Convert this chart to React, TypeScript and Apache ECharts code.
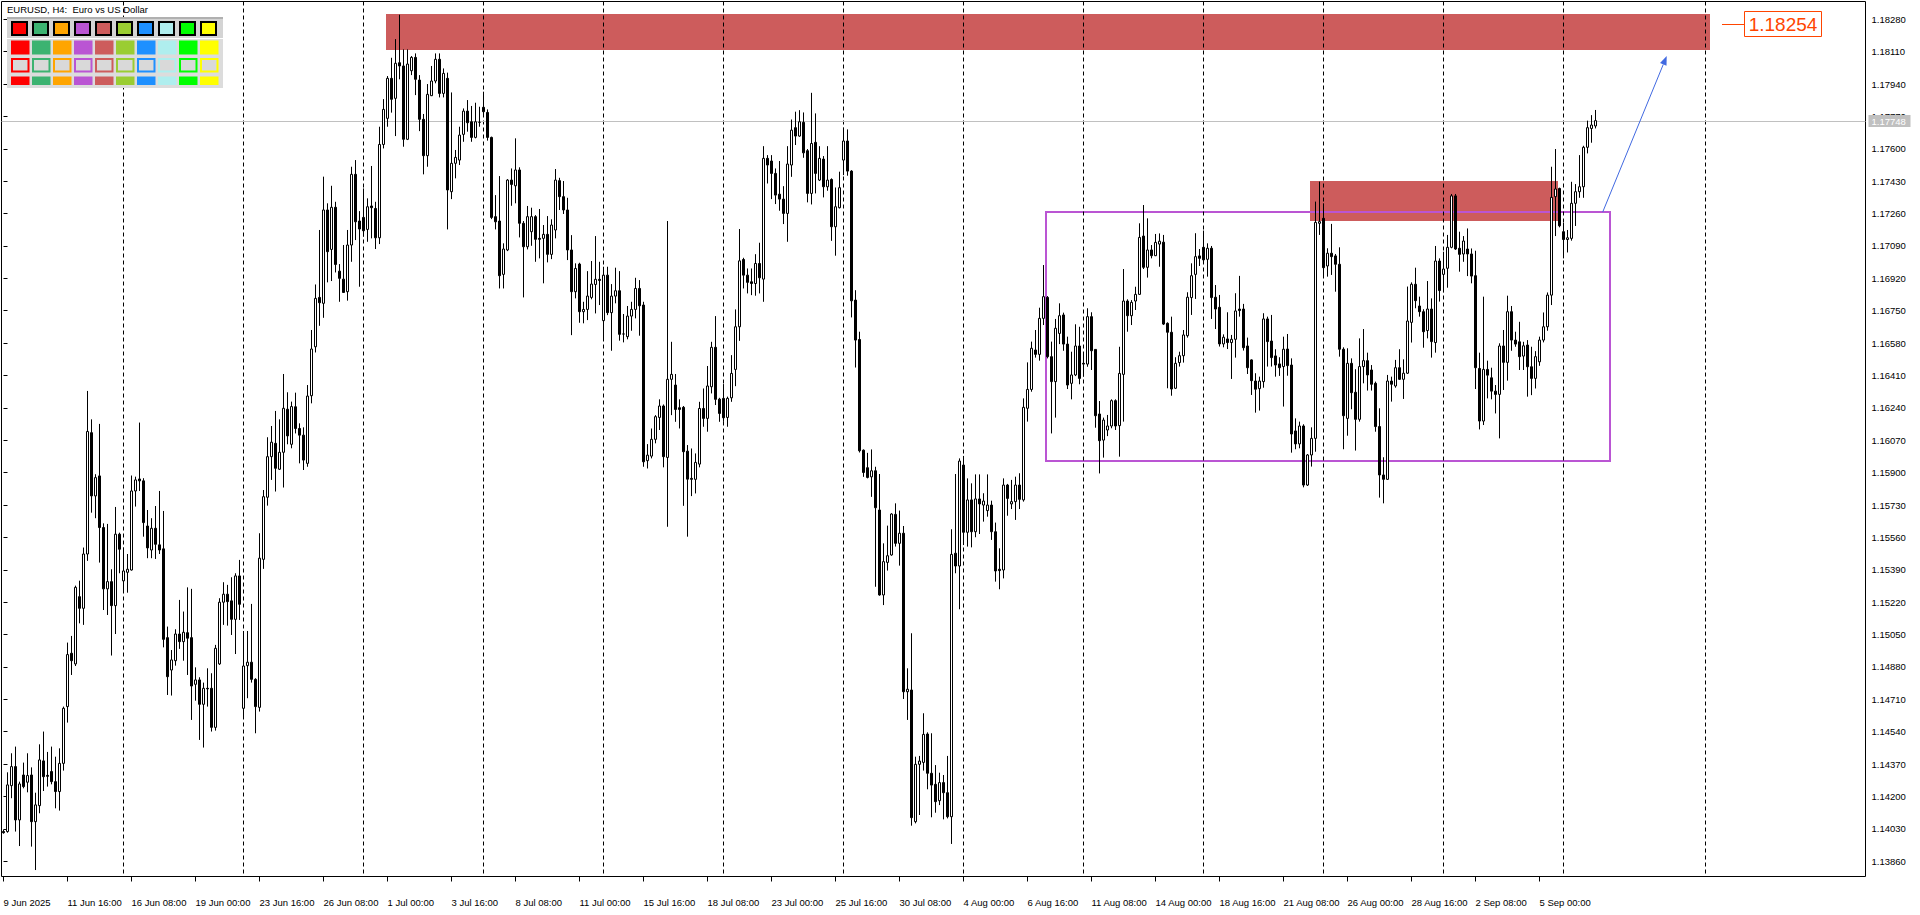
import React, { useEffect, useRef } from "react";
import * as echarts from "echarts";

const FONT = "'Liberation Sans', Arial, sans-serif";
const SLOTS = 466; // bar slots on the time scale, including the empty space on the right

const timeLabels: [number, string][] = [
  [0, "9 Jun 2025"], [16, "11 Jun 16:00"], [32, "16 Jun 08:00"], [48, "19 Jun 00:00"],
  [64, "23 Jun 16:00"], [80, "26 Jun 08:00"], [96, "1 Jul 00:00"], [112, "3 Jul 16:00"],
  [128, "8 Jul 08:00"], [144, "11 Jul 00:00"], [160, "15 Jul 16:00"], [176, "18 Jul 08:00"],
  [192, "23 Jul 00:00"], [208, "25 Jul 16:00"], [224, "30 Jul 08:00"], [240, "4 Aug 00:00"],
  [256, "6 Aug 16:00"], [272, "11 Aug 08:00"], [288, "14 Aug 00:00"], [304, "18 Aug 16:00"],
  [320, "21 Aug 08:00"], [336, "26 Aug 00:00"], [352, "28 Aug 16:00"], [368, "2 Sep 08:00"],
  [384, "5 Sep 00:00"],
];

const priceTicks = [
  1.1386, 1.1403, 1.142, 1.1437, 1.1454, 1.1471, 1.1488, 1.1505, 1.1522, 1.1539, 1.1556,
  1.1573, 1.159, 1.1607, 1.1624, 1.1641, 1.1658, 1.1675, 1.1692, 1.1709, 1.1726, 1.1743,
  1.176, 1.1777, 1.1794, 1.1811, 1.1828,
];

// EURUSD H4 candles: [open, close, low, high]
const candles: number[][] = [
  [1.14016,1.1401,1.14005,1.14026],[1.14016,1.14261,1.1401,1.14327],[1.14257,1.14357,1.14191,1.14427],[1.14357,1.14077,1.14016,1.14462],[1.14077,1.14266,1.1394,1.14278],
  [1.14313,1.14252,1.14243,1.14378],[1.14275,1.1431,1.14222,1.14427],[1.14313,1.14068,1.13937,1.14353],[1.14068,1.14156,1.13814,1.1422],[1.14152,1.14392,1.14112,1.14474],
  [1.14387,1.14304,1.14229,1.14541],[1.14311,1.14306,1.14252,1.14434],[1.14331,1.14278,1.14264,1.14462],[1.14278,1.14226,1.14138,1.14409],[1.14226,1.14374,1.14126,1.14453],
  [1.14374,1.14663,1.14336,1.14672],[1.14672,1.14945,1.14588,1.15008],[1.14952,1.14913,1.14838,1.15043],[1.14896,1.15298,1.14885,1.15307],[1.15249,1.15188,1.15109,1.15333],
  [1.15188,1.15473,1.15101,1.15507],[1.15473,1.16116,1.15437,1.16329],[1.1611,1.15778,1.1569,1.1618],[1.15778,1.15874,1.15661,1.15892],[1.15883,1.15612,1.15428,1.16156],
  [1.15612,1.1529,1.15179,1.15634],[1.1529,1.15328,1.15153,1.15631],[1.15328,1.15202,1.1494,1.15393],[1.15202,1.15577,1.15053,1.1572],[1.15577,1.15498,1.15372,1.15585],
  [1.15332,1.15384,1.15281,1.15507],[1.15377,1.15393,1.1527,1.15473],[1.15389,1.15804,1.15386,1.15885],[1.15804,1.15862,1.15722,1.15879],[1.15867,1.15857,1.15804,1.16163],
  [1.15857,1.15638,1.15564,1.15871],[1.1562,1.15505,1.15451,1.15704],[1.15494,1.15608,1.15451,1.15661],[1.15608,1.15524,1.15447,1.15725],[1.15521,1.15494,1.15473,1.15804],
  [1.155,1.15025,1.14983,1.15699],[1.15034,1.14829,1.14733,1.15092],[1.14864,1.14917,1.1473,1.14969],[1.14913,1.15053,1.14887,1.15078],[1.15053,1.15013,1.14975,1.15232],
  [1.15013,1.15062,1.14913,1.15171],[1.1506,1.15031,1.14838,1.15298],[1.15034,1.1478,1.14602,1.1529],[1.14789,1.14812,1.14703,1.14878],[1.14812,1.14684,1.14497,1.14826],
  [1.14684,1.14768,1.14457,1.14798],[1.14768,1.14765,1.14672,1.14873],[1.14768,1.14563,1.14541,1.14847],[1.14563,1.14978,1.14546,1.14996],[1.14896,1.1522,1.14891,1.15241],
  [1.1522,1.15262,1.15101,1.15325],[1.15262,1.15223,1.15097,1.15311],[1.15227,1.1513,1.15048,1.15351],[1.1513,1.15358,1.14948,1.15372],[1.15358,1.15209,1.15127,1.15442],
  [1.14663,1.14885,1.14611,1.15069],[1.14887,1.14905,1.14716,1.15069],[1.14905,1.14815,1.14798,1.15211],[1.14815,1.14672,1.14532,1.14821],[1.14668,1.15451,1.14646,1.15582],
  [1.15445,1.15774,1.15395,1.15809],[1.15771,1.15984,1.15727,1.16086],[1.15984,1.1606,1.15862,1.16145],[1.16054,1.15923,1.15801,1.16224],[1.15918,1.16007,1.15914,1.1618],
  [1.16007,1.16238,1.15822,1.16418],[1.16233,1.16093,1.16049,1.16322],[1.16049,1.16247,1.16028,1.16273],[1.16246,1.16132,1.16106,1.1632],[1.16132,1.16097,1.15949,1.16159],
  [1.16097,1.15966,1.15914,1.16138],[1.15949,1.16302,1.15931,1.1636],[1.16304,1.16549,1.16264,1.16649],[1.16561,1.16815,1.16531,1.16888],[1.1682,1.16792,1.16671,1.17174],
  [1.16789,1.17279,1.16713,1.17454],[1.17279,1.1706,1.16899,1.17314],[1.17072,1.17293,1.16906,1.17406],[1.17293,1.16993,1.16951,1.17322],[1.16958,1.1692,1.16797,1.16995],
  [1.16916,1.16846,1.16845,1.17095],[1.1685,1.17095,1.16803,1.17174],[1.17095,1.17466,1.17007,1.17506],[1.17466,1.17217,1.17121,1.17541],[1.17221,1.17179,1.16876,1.17273],
  [1.1724,1.1717,1.17139,1.17392],[1.17177,1.17296,1.17112,1.1734],[1.173,1.17291,1.1713,1.1751],[1.17287,1.17133,1.17074,1.17322],[1.17133,1.17623,1.171,1.17716],
  [1.17623,1.17807,1.17602,1.17861],[1.1776,1.1797,1.17716,1.17982],[1.1797,1.1786,1.1779,1.18078],[1.17865,1.18049,1.17667,1.18176],[1.18052,1.18035,1.17965,1.18304],
  [1.18035,1.1765,1.17611,1.18122],[1.1765,1.18045,1.17646,1.18122],[1.1801,1.1808,1.17987,1.18087],[1.1808,1.17965,1.17882,1.18101],[1.17961,1.17755,1.17693,1.17987],
  [1.17755,1.17564,1.17466,1.17783],[1.17564,1.17886,1.17506,1.1794],[1.17879,1.17956,1.17877,1.18035],[1.17956,1.1807,1.17944,1.18101],[1.1807,1.17891,1.1787,1.18101],
  [1.17891,1.17996,1.1787,1.18022],[1.1797,1.17384,1.17177,1.18],[1.17375,1.17524,1.17336,1.17896],[1.17524,1.17555,1.17445,1.17594],[1.17541,1.17672,1.17515,1.17716],
  [1.17676,1.17798,1.17637,1.17812],[1.17798,1.17737,1.1769,1.17856],[1.17742,1.1766,1.17637,1.17825],[1.1766,1.17742,1.17655,1.17842],[1.17739,1.17739,1.17716,1.17821],
  [1.17818,1.17795,1.17769,1.179],[1.17791,1.1766,1.17643,1.17807],[1.1766,1.1724,1.17231,1.17664],[1.17244,1.17217,1.17177,1.17357],[1.17221,1.16934,1.16867,1.17457],
  [1.16941,1.17074,1.16867,1.17104],[1.17069,1.17436,1.17063,1.17441],[1.17436,1.17413,1.17301,1.17497],[1.17406,1.17489,1.17314,1.17655],[1.17489,1.17209,1.17135,1.17503],
  [1.17209,1.17086,1.1682,1.17221],[1.17086,1.17244,1.17072,1.173],[1.17165,1.17244,1.17091,1.17291],[1.17244,1.17125,1.17007,1.17252],[1.1713,1.17125,1.17025,1.17284],
  [1.1713,1.17151,1.16894,1.172],[1.17151,1.17046,1.17004,1.17247],[1.17046,1.172,1.17021,1.1723],[1.17174,1.17436,1.1713,1.17494],[1.17433,1.17349,1.17279,1.17448],
  [1.17349,1.17279,1.17258,1.17431],[1.17279,1.17069,1.17016,1.17343],[1.17069,1.1685,1.16622,1.17147],[1.1685,1.16972,1.16815,1.16999],[1.16995,1.16745,1.16687,1.17002],
  [1.16745,1.16757,1.16684,1.16797],[1.16757,1.16827,1.16701,1.16958],[1.1682,1.1689,1.1681,1.17011],[1.16888,1.16915,1.16736,1.17142],[1.16915,1.16909,1.1678,1.17007],
  [1.16698,1.16937,1.16596,1.16981],[1.16937,1.1674,1.16727,1.16981],[1.1674,1.16827,1.1654,1.1689],[1.16827,1.16855,1.16789,1.16976],[1.16855,1.16626,1.16593,1.16958],
  [1.16628,1.16628,1.16584,1.16733],[1.16614,1.16722,1.166,1.16775],[1.16722,1.16757,1.16645,1.16797],[1.16757,1.16867,1.1671,1.16923],[1.16867,1.16776,1.16619,1.16911],
  [1.1678,1.15957,1.15931,1.16797],[1.15963,1.15992,1.15922,1.1605],[1.15987,1.16075,1.15975,1.16132],[1.16075,1.16194,1.16054,1.16202],[1.1619,1.1625,1.16124,1.16285],
  [1.1625,1.15984,1.15928,1.16258],[1.1598,1.1639,1.15616,1.17221],[1.1639,1.16416,1.16202,1.16587],[1.1636,1.16232,1.16167,1.16418],[1.16241,1.16232,1.16132,1.16285],
  [1.16243,1.1601,1.15726,1.1625],[1.16013,1.15866,1.15564,1.16045],[1.1587,1.15865,1.15777,1.16027],[1.15865,1.15954,1.15791,1.16001],[1.15945,1.16237,1.15928,1.16272],
  [1.16237,1.16185,1.16141,1.16342],[1.16185,1.16355,1.16115,1.1646],[1.16351,1.16558,1.16316,1.16587],[1.16558,1.16285,1.16255,1.16722],[1.16286,1.16211,1.16167,1.16293],
  [1.1629,1.16188,1.16167,1.16365],[1.1619,1.1629,1.16141,1.16299],[1.16293,1.16421,1.16272,1.16517],[1.16442,1.16666,1.16354,1.16757],[1.16666,1.17012,1.16592,1.17179],
  [1.17019,1.16937,1.16867,1.17028],[1.16937,1.16899,1.16841,1.16972],[1.16902,1.16893,1.16832,1.16972],[1.16893,1.16998,1.16829,1.17047],[1.16998,1.16923,1.16841,1.17107],
  [1.16916,1.1755,1.16797,1.17614],[1.1755,1.17515,1.17418,1.17567],[1.17536,1.17471,1.17336,1.17567],[1.17471,1.17357,1.1731,1.17497],[1.17362,1.17336,1.17275,1.17536],
  [1.17336,1.17261,1.17205,1.17404],[1.17261,1.1752,1.17112,1.17614],[1.17515,1.17698,1.17453,1.17754],[1.17711,1.17667,1.1762,1.17795],[1.17667,1.17742,1.17663,1.17803],
  [1.17739,1.17579,1.17553,1.17791],[1.1759,1.17366,1.17319,1.17599],[1.17366,1.17628,1.17308,1.17894],[1.17634,1.17471,1.17366,1.17786],[1.17436,1.1755,1.17431,1.17614],
  [1.17546,1.17401,1.17345,1.17562],[1.17401,1.17436,1.1738,1.17614],[1.17439,1.17191,1.17117,1.17445],[1.17191,1.17296,1.17039,1.17397],[1.17291,1.17396,1.17287,1.1748],
  [1.17541,1.17641,1.17462,1.17711],[1.17641,1.17483,1.17459,1.17702],[1.17483,1.16802,1.16715,1.17488],[1.16806,1.16596,1.16452,1.16858],[1.16599,1.16015,1.16006,1.1664],
  [1.16018,1.15901,1.15878,1.16022],[1.15926,1.15875,1.1587,1.16004],[1.15878,1.1591,1.15773,1.16022],[1.1591,1.15716,1.15301,1.15931],[1.15704,1.15258,1.15254,1.15893],
  [1.15258,1.15433,1.15205,1.15529],[1.15429,1.15464,1.15386,1.15622],[1.15468,1.15683,1.15464,1.15687],[1.15681,1.15529,1.15512,1.15739],[1.15529,1.15582,1.15412,1.15701],
  [1.15582,1.1475,1.14712,1.1562],[1.1475,1.14763,1.14602,1.14873],[1.14759,1.14089,1.14047,1.15057],[1.14068,1.14369,1.14059,1.14409],[1.14369,1.14386,1.14103,1.14413],
  [1.14379,1.14526,1.14336,1.14637],[1.14528,1.14322,1.14238,1.14537],[1.14322,1.1426,1.14091,1.14532],[1.14264,1.14173,1.14115,1.14365],[1.14178,1.14273,1.14155,1.14325],
  [1.14273,1.1422,1.1408,1.14313],[1.1422,1.14094,1.14085,1.14413],[1.14094,1.15471,1.13951,1.15603],[1.15477,1.1541,1.15372,1.15893],[1.1541,1.15961,1.15183,1.15975],
  [1.1594,1.15587,1.1552,1.15988],[1.15587,1.15757,1.15512,1.1587],[1.15757,1.1559,1.15508,1.15844],[1.1559,1.15762,1.15561,1.15891],[1.15762,1.15736,1.15578,1.15891],
  [1.1573,1.15751,1.15643,1.15792],[1.15701,1.1573,1.15669,1.15891],[1.1573,1.1559,1.15547,1.15753],[1.1559,1.15384,1.15328,1.15638],[1.15393,1.15386,1.15288,1.15503],
  [1.15389,1.15835,1.15345,1.1587],[1.15835,1.15765,1.15674,1.15841],[1.15736,1.15748,1.15709,1.15862],[1.15748,1.15835,1.15652,1.15879],[1.15835,1.1576,1.15709,1.15897],
  [1.15757,1.16243,1.15748,1.1629],[1.16238,1.16337,1.16168,1.16479],[1.16337,1.16553,1.16325,1.16588],[1.16544,1.16521,1.16504,1.16649],[1.16521,1.1671,1.16488,1.16766],
  [1.1671,1.16824,1.16675,1.1699],[1.1682,1.16509,1.165,1.16827],[1.16509,1.16378,1.16106,1.16588],[1.16378,1.16658,1.16189,1.16707],[1.16631,1.16724,1.16575,1.16789],
  [1.16728,1.16575,1.1654,1.1674],[1.16575,1.1636,1.16339,1.16614],[1.16369,1.16413,1.16285,1.16535],[1.16413,1.16565,1.16407,1.16679],[1.16565,1.16395,1.16364,1.16666],
  [1.16474,1.1647,1.16404,1.16526],[1.1647,1.16719,1.16456,1.16763],[1.16719,1.1654,1.16439,1.16742],[1.16547,1.16199,1.16136,1.16547],[1.16208,1.16068,1.15896,1.16276],
  [1.16071,1.16176,1.15979,1.16189],[1.16124,1.16145,1.16092,1.16203],[1.16145,1.16278,1.16133,1.16285],[1.16278,1.16145,1.16124,1.16285],[1.16147,1.16421,1.15984,1.16561],
  [1.16416,1.16801,1.16168,1.16969],[1.16801,1.16724,1.1664,1.1681],[1.16724,1.16794,1.16675,1.16806],[1.16801,1.16836,1.16754,1.16876],[1.16836,1.17135,1.16833,1.17209],
  [1.17142,1.16978,1.16969,1.17305],[1.16978,1.17069,1.16924,1.17235],[1.17069,1.17039,1.17025,1.17095],[1.17039,1.17109,1.17037,1.17153],[1.171,1.17115,1.16981,1.17156],
  [1.1711,1.1668,1.16675,1.17148],[1.16684,1.16637,1.16343,1.16689],[1.16637,1.16339,1.16304,1.16719],[1.16343,1.16474,1.16339,1.16506],[1.16478,1.16514,1.16457,1.16535],
  [1.16514,1.16623,1.16478,1.16649],[1.16619,1.16821,1.16609,1.16847],[1.16819,1.16934,1.16728,1.16999],[1.16941,1.17034,1.16812,1.17157],[1.17038,1.17025,1.16985,1.17074],
  [1.17083,1.17017,1.16999,1.17171],[1.1702,1.17078,1.16929,1.17104],[1.17078,1.16819,1.16707,1.1709],[1.16821,1.16759,1.16654,1.16885],[1.16768,1.16576,1.16562,1.16833],
  [1.16576,1.16611,1.16558,1.16626],[1.16602,1.16583,1.16549,1.16742],[1.16583,1.166,1.16392,1.16623],[1.166,1.16749,1.16504,1.16842],[1.16759,1.16751,1.16719,1.16933],
  [1.16759,1.16556,1.16541,1.16786],[1.16565,1.16451,1.16418,1.16609],[1.16492,1.16383,1.16308,1.16495],[1.16381,1.16338,1.16215,1.16422],[1.16341,1.16381,1.16226,1.16404],
  [1.16378,1.16707,1.16346,1.16737],[1.16707,1.16588,1.16457,1.16719],[1.16591,1.16504,1.16457,1.16728],[1.16513,1.16465,1.16404,1.16548],[1.16471,1.16451,1.16408,1.16506],
  [1.16457,1.16548,1.16247,1.16614],[1.16549,1.16462,1.16409,1.16628],[1.16465,1.16103,1.16005,1.165],[1.16119,1.16051,1.16023,1.16185],[1.16051,1.16145,1.16028,1.16168],
  [1.16145,1.15835,1.15823,1.16154],[1.15835,1.15993,1.1583,1.15998],[1.15993,1.1608,1.15932,1.16138],[1.1608,1.17214,1.1601,1.17323],[1.17209,1.17218,1.17148,1.17428],
  [1.17235,1.16976,1.16929,1.17314],[1.16985,1.17052,1.16929,1.17078],[1.17052,1.17034,1.16938,1.17206],[1.17038,1.16994,1.1685,1.17048],[1.16994,1.16548,1.16509,1.17083],
  [1.16548,1.16199,1.16023,1.16558],[1.16185,1.16474,1.16094,1.16553],[1.16474,1.1632,1.16233,1.165],[1.16322,1.1618,1.16016,1.16443],[1.1618,1.16457,1.16168,1.16605],
  [1.16457,1.16488,1.16369,1.16654],[1.16488,1.16413,1.16331,1.1653],[1.16439,1.16364,1.16331,1.16465],[1.16369,1.16142,1.16115,1.16378],[1.16142,1.15888,1.15769,1.16238],
  [1.15888,1.15865,1.15739,1.15981],[1.15865,1.16381,1.15862,1.16413],[1.16381,1.16364,1.16273,1.16404],[1.16355,1.16451,1.16346,1.16492],[1.16451,1.1639,1.16387,1.16548],
  [1.1639,1.16422,1.16287,1.16495],[1.16422,1.16696,1.16418,1.16877],[1.16689,1.16889,1.16583,1.16899],[1.16889,1.16803,1.16763,1.16976],[1.16775,1.16745,1.16719,1.16824],
  [1.16745,1.1664,1.16556,1.16758],[1.16646,1.16759,1.16605,1.16906],[1.16759,1.16588,1.16504,1.16815],[1.16583,1.17011,1.1653,1.1709],[1.17011,1.16856,1.16798,1.17025],
  [1.16941,1.16969,1.16847,1.1706],[1.16973,1.17083,1.16871,1.17148],[1.17083,1.17353,1.17078,1.17363],[1.17353,1.17074,1.17069,1.17363],[1.17078,1.17046,1.16955,1.17165],
  [1.17048,1.17116,1.17007,1.17142],[1.17074,1.17048,1.16932,1.17182],[1.17048,1.16932,1.16894,1.17077],[1.16934,1.16451,1.16339,1.17065],[1.16447,1.16171,1.16127,1.1653],
  [1.16171,1.16442,1.1615,1.16824],[1.16442,1.16412,1.1629,1.16488],[1.16398,1.16328,1.16285,1.16451],[1.16328,1.16311,1.16211,1.1636],[1.16311,1.16565,1.1608,1.16579],
  [1.16565,1.16479,1.16334,1.16649],[1.16479,1.16745,1.16383,1.16829],[1.16745,1.16596,1.1654,1.16775],[1.16596,1.16575,1.16561,1.1664],[1.16587,1.16509,1.16439,1.16692],
  [1.16512,1.16566,1.16439,1.16587],[1.1657,1.16456,1.16299,1.16596],[1.16456,1.16395,1.16307,1.16561],[1.16395,1.16509,1.16342,1.16538],[1.16482,1.16596,1.16461,1.16614],
  [1.16596,1.16666,1.16584,1.16741],[1.16666,1.16832,1.16645,1.16846],[1.16832,1.17345,1.1678,1.17506],[1.17349,1.17389,1.17142,1.17599],[1.17392,1.17196,1.17188,1.17396],
  [1.17165,1.17124,1.17025,1.17212],[1.17124,1.17133,1.17056,1.17174],[1.1713,1.17314,1.17118,1.17427],[1.17314,1.17375,1.17195,1.17415],[1.17375,1.17401,1.17343,1.17567],
  [1.17401,1.17608,1.17343,1.17616],[1.17608,1.17711,1.17576,1.17748],[1.17707,1.17725,1.17632,1.17777],[1.1772,1.17748,1.17707,1.17804],
];

const bidPrice = 1.17748;
const weekLines = [30, 60, 90, 120, 150, 180, 210, 240, 270, 300, 330, 360, 390, 425.5];
// zones: [fromBar, toBar, topPrice, bottomPrice]
const resistanceZone = [95.6, 426.6, 1.18308, 1.18119];
const supplyZone = [326.6, 388.6, 1.17431, 1.17221];
const rangeBox = [260.55, 401.6, 1.17268, 1.15963];
// arrow: [fromBar, fromPrice, toBar, toPrice]
const targetArrow = [399.8, 1.17268, 415.8, 1.18087];
const targetPrice = 1.18254;
const targetBar = 429.6;
const paletteColors = [
  "#FF0000", "#3CB371", "#FFA500", "#BA55D3", "#CD5C5C",
  "#9ACD32", "#1E90FF", "#AFEEEE", "#00FF00", "#FFFF00",
];
const Y_MIN = 1.137801;
const Y_MAX = 1.183734;

function buildPalette(): any[] {
  const els: any[] = [];
  els.push({ type: "rect", z: 10, shape: { x: 7, y: 17, width: 216, height: 71 }, style: { fill: "#DCDCDC" } });
  els.push({ type: "rect", z: 10, shape: { x: 7, y: 17, width: 216, height: 2 }, style: { fill: "#B0B0B0" } });
  els.push({ type: "rect", z: 10, shape: { x: 7, y: 19, width: 216, height: 19 }, style: { fill: "#D4D4D4" } });
  els.push({ type: "rect", z: 10, shape: { x: 7, y: 38, width: 216, height: 1 }, style: { fill: "#FFFFFF" } });
  paletteColors.forEach((c, k) => {
    const x = 11 + 21 * k;
    els.push({ type: "rect", z: 11, shape: { x: x + 1, y: 22, width: 15, height: 13 }, style: { fill: c, stroke: "#000", lineWidth: 2 } });
    els.push({ type: "rect", z: 11, shape: { x, y: 40.5, width: 18.5, height: 14 }, style: { fill: c } });
    els.push({ type: "rect", z: 11, shape: { x: x + 1, y: 59, width: 16.5, height: 12.5 }, style: { fill: "#D9D9D9", stroke: c, lineWidth: 2 } });
    els.push({ type: "rect", z: 11, shape: { x, y: 76.5, width: 18.5, height: 8.5 }, style: { fill: c } });
  });
  els.push({
    type: "text", z: 11, x: 7, y: 4,
    style: { text: "EURUSD, H4:  Euro vs US Dollar", fill: "#000", fontSize: 9.5, fontFamily: FONT, verticalAlign: "top" },
  });
  return els;
}

export default function App() {
  const ref = useRef<HTMLDivElement>(null);
  useEffect(() => {
    if (!ref.current) return;
    const chart = echarts.init(ref.current, undefined, { renderer: "svg" });
    const labelMap = new Map<number, string>(timeLabels);
    const categories = Array.from({ length: SLOTS }, (_, i) => String(i));
    const rectRender = (style: any) => (params: any, api: any) => {
      const p0 = api.coord([api.value(0), api.value(2)]);
      const p1 = api.coord([api.value(1), api.value(3)]);
      return {
        type: "rect",
        shape: { x: Math.round(p0[0]), y: Math.round(p0[1]), width: Math.round(p1[0] - p0[0]), height: Math.round(p1[1] - p0[1]) },
        style,
      };
    };
    const option: any = {
      animation: false,
      backgroundColor: "#ffffff",
      textStyle: { fontFamily: FONT },
      grid: { left: 1.5, top: 1.5, width: SLOTS * 4, height: 875, show: true, borderColor: "#000", borderWidth: 1 },
      xAxis: [
        {
          type: "category",
          data: categories,
          boundaryGap: true,
          axisLine: { show: false },
          axisTick: { show: true, alignWithLabel: true, length: 5, interval: (i: number) => labelMap.has(i), lineStyle: { color: "#000" } },
          axisLabel: {
            interval: (i: number) => labelMap.has(i),
            formatter: (_v: string, i: number) => labelMap.get(i) ?? "",
            align: "left", color: "#000", fontSize: 9.5, fontFamily: FONT, margin: 21,
          },
          splitLine: { show: false },
        },
        { type: "value", min: -0.5, max: SLOTS - 0.5, show: false, splitLine: { show: false } },
      ],
      yAxis: {
        type: "value",
        position: "right",
        min: Y_MIN,
        max: Y_MAX,
        splitLine: { show: false },
        axisLine: { show: false },
        axisTick: { show: true, length: 4, customValues: priceTicks, lineStyle: { color: "#000" } },
        axisLabel: {
          customValues: priceTicks,
          formatter: (v: number) => v.toFixed(5),
          color: "#000", fontSize: 9.5, fontFamily: FONT, margin: 6,
        },
      },
      graphic: { elements: buildPalette() },
      series: [
        {
          type: "custom", name: "zones", xAxisIndex: 1, yAxisIndex: 0, z: 1,
          data: [resistanceZone, supplyZone],
          renderItem: rectRender({ fill: "#CD5C5C" }),
        },
        {
          type: "custom", name: "range", xAxisIndex: 1, yAxisIndex: 0, z: 1,
          data: [rangeBox],
          renderItem: rectRender({ fill: "none", stroke: "#BA55D3", lineWidth: 2 }),
        },
        {
          type: "custom", name: "weeks", xAxisIndex: 1, yAxisIndex: 0, z: 2,
          data: weekLines.map((v) => [v, Y_MIN]),
          renderItem: (params: any, api: any) => {
            const cs = params.coordSys;
            const x = Math.floor(api.coord([api.value(0), Y_MIN])[0]) + 0.5;
            return {
              type: "line",
              shape: { x1: x, y1: cs.y, x2: x, y2: cs.y + cs.height },
              style: { stroke: "#000", lineWidth: 1, lineDash: [4, 3] },
            };
          },
        },
        {
          type: "custom", name: "bid", xAxisIndex: 1, yAxisIndex: 0, z: 2,
          data: [[0, bidPrice]],
          renderItem: (params: any, api: any) => {
            const cs = params.coordSys;
            const y = Math.round(api.coord([0, api.value(1)])[1]) + 0.5;
            const right = cs.x + cs.width;
            return {
              type: "group",
              children: [
                { type: "line", shape: { x1: cs.x, y1: y, x2: right, y2: y }, style: { stroke: "#C0C0C0", lineWidth: 1 } },
                { type: "rect", shape: { x: right + 3, y: y - 6.5, width: 42, height: 12 }, style: { fill: "#C0C0C0" } },
                {
                  type: "text", x: right + 6, y: y,
                  style: { text: api.value(1).toFixed(5), fill: "#fff", fontSize: 9.5, fontFamily: FONT, verticalAlign: "middle" },
                },
              ],
            };
          },
        },
        {
          type: "candlestick",
          name: "EURUSD",
          xAxisIndex: 0, yAxisIndex: 0, z: 3,
          data: candles,
          barWidth: 2,
          itemStyle: { color: "#ffffff", color0: "#000000", borderColor: "#000000", borderColor0: "#000000", borderWidth: 1 },
        },
        {
          type: "custom", name: "arrow", xAxisIndex: 1, yAxisIndex: 0, z: 4,
          data: [targetArrow],
          renderItem: (params: any, api: any) => {
            const a = api.coord([api.value(0), api.value(1)]);
            const b = api.coord([api.value(2), api.value(3)]);
            const dx = b[0] - a[0], dy = b[1] - a[1];
            const len = Math.hypot(dx, dy);
            const ux = dx / len, uy = dy / len;
            const hl = 9, hw = 3.5;
            const bx = b[0] - ux * hl, by = b[1] - uy * hl;
            return {
              type: "group",
              children: [
                { type: "line", shape: { x1: a[0], y1: a[1], x2: bx, y2: by }, style: { stroke: "#4169E1", lineWidth: 1 } },
                { type: "polygon", shape: { points: [[b[0], b[1]], [bx - uy * hw, by + ux * hw], [bx + uy * hw, by - ux * hw]] }, style: { fill: "#4169E1" } },
              ],
            };
          },
        },
        {
          type: "custom", name: "target", xAxisIndex: 1, yAxisIndex: 0, z: 4,
          data: [[targetBar, targetPrice]],
          renderItem: (params: any, api: any) => {
            const p = api.coord([api.value(0), api.value(1)]);
            const x = Math.round(p[0]);
            const y = Math.round(p[1]) + 0.5;
            return {
              type: "group",
              children: [
                { type: "line", shape: { x1: x, y1: y, x2: x + 22, y2: y }, style: { stroke: "#FF4500", lineWidth: 1 } },
                { type: "rect", shape: { x: x + 22.5, y: y - 13, width: 77, height: 25 }, style: { fill: "#fff", stroke: "#FF4500", lineWidth: 1 } },
                {
                  type: "text", x: x + 61, y: y,
                  style: { text: api.value(1).toFixed(5), fill: "#FF4500", fontSize: 19, fontFamily: FONT, align: "center", verticalAlign: "middle" },
                },
              ],
            };
          },
        },
      ],
    };
    chart.setOption(option);
    return () => chart.dispose();
  }, []);
  return <div ref={ref} style={{ position: "absolute", left: 0, top: 0, width: 1920, height: 915 }} />;
}
